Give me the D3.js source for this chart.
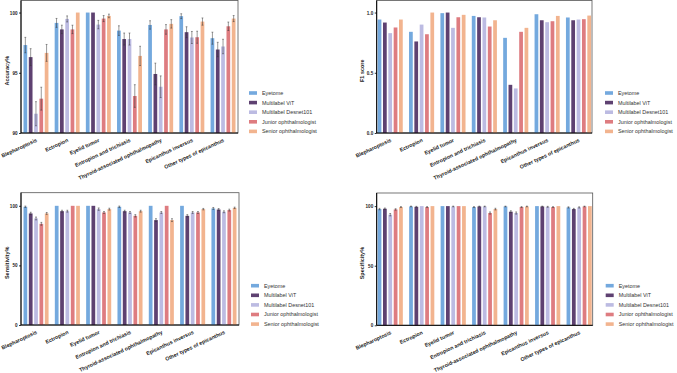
<!DOCTYPE html>
<html lang="en">
<head>
  <meta charset="UTF-8">
  <title>Eyetome comparison</title>
  <script src="https://d3js.org/d3.v7.min.js"></script>
  <style>
    body { margin: 0; background: #fff; }
    text { font-family: "Liberation Sans", Arial, sans-serif; }
  </style>
</head>
<body>
<script>
  // categories and series
  const categories = ["Blepharoptosis", "Ectropion", "Eyelid tumor", "Entropion and trichiasis",
    "Thyroid-associated ophthalmopathy", "Epicanthus inversus", "Other types of epicanthus"];
  const series = ["Eyetome", "Multilabel ViT", "Multilabel Desnet101", "Junior ophthalmologist", "Senior ophthalmologist"];
  const colors = ["#74a9de", "#5e4171", "#bcbbe2", "#de7c80", "#f2b48f"];

  // accuracy (%) - one row per series
  const accuracy = [
    [97.3, 99.14, 100, 98.5, 98.97, 99.7, 97.87],
    [96.3, 98.6, 100, 97.8, 94.9, 98.37, 96.93],
    [91.6, 99.47, 99.0, 97.8, 93.84, 97.93, 97.18],
    [92.85, 98.6, 99.5, 93.07, 98.6, 97.95, 98.86],
    [96.65, 100, 99.72, 96.4, 99.06, 99.25, 99.5]
  ];
  const accuracyErr = [
    [0.64, 0.37, 0, 0.4, 0.35, 0.2, 0.5],
    [0.7, 0.35, 0, 0.5, 0.9, 0.45, 0.6],
    [1.0, 0.25, 0.35, 0.5, 0.9, 0.5, 0.6],
    [0.95, 0.35, 0.25, 0.94, 0.4, 0.5, 0.35],
    [0.7, 0, 0.15, 0.8, 0.35, 0.3, 0.25]
  ];

  // F1 score
  const f1 = [
    [0.942, 0.84, 0.995, 0.972, 0.79, 0.986, 0.959],
    [0.917, 0.76, 1.0, 0.961, 0.40, 0.936, 0.936],
    [0.829, 0.90, 0.873, 0.959, 0.37, 0.92, 0.942],
    [0.876, 0.82, 0.961, 0.884, 0.84, 0.928, 0.945],
    [0.942, 1.0, 0.981, 0.936, 0.873, 0.972, 0.975]
  ];

  // sensitivity (%)
  const sensitivity = [
    [99.2, 100, 100, 99.2, 100, 100, 97.8],
    [93.6, 95.5, 100, 95.5, 88, 91.6, 96.9],
    [89.4, 95.5, 97.2, 94.4, 94.4, 94.4, 95],
    [84.9, 100, 94.4, 91.6, 100, 94.4, 96.4],
    [93.6, 100, 97.2, 95.5, 88, 97.2, 98.3]
  ];
  const sensitivityErr = [
    [0.6, 0, 0, 0.6, 0, 0, 0.8],
    [1, 0.8, 0, 0.8, 1.2, 1, 0.8],
    [1.2, 0.8, 1, 0.8, 0.8, 0.8, 0.8],
    [1.2, 0, 0.8, 1, 0, 0.8, 0.8],
    [0.8, 0, 0.8, 0.8, 1.2, 0.6, 0.6]
  ];

  // specificity (%)
  const specificity = [
    [97.5, 99.7, 100, 99.2, 99.7, 100, 98.9],
    [97.8, 99.4, 100, 99.7, 95.3, 99.7, 97.5],
    [92.8, 100, 99.7, 99.7, 94.2, 99.4, 98.9],
    [97.2, 99.2, 100, 94.2, 99.2, 99.2, 99.7],
    [99.2, 100, 100, 97.5, 99.7, 100, 100]
  ];
  const specificityErr = [
    [0.6, 0.3, 0, 0.4, 0.3, 0, 0.5],
    [0.6, 0.4, 0, 0.3, 0.8, 0.3, 0.6],
    [1, 0, 0.3, 0.3, 0.9, 0.4, 0.5],
    [0.6, 0.4, 0, 0.9, 0.4, 0.4, 0.3],
    [0.4, 0, 0, 0.7, 0.3, 0, 0]
  ];

  const svg = d3.select("body").append("svg")
    .attr("width", 677)
    .attr("height", 373);

  function drawPanel(p) {
    const g = svg.append("g");

    const x0 = d3.scaleBand()
      .domain(categories)
      .range([p.left, p.right])
      .paddingInner(0.2)
      .paddingOuter(p.outer);

    const x1 = d3.scaleBand()
      .domain(series)
      .range([0, x0.bandwidth()])
      .paddingInner(0.3);

    const y = d3.scaleLinear()
      .domain(p.domain)
      .range([p.bottom, p.top]);

    // frame
    g.append("rect")
      .attr("x", p.left)
      .attr("y", p.top)
      .attr("width", p.right - p.left)
      .attr("height", p.bottom - p.top)
      .attr("fill", "none")
      .attr("stroke", "#555")
      .attr("stroke-width", 0.8);

    // bars
    series.forEach((s, si) => {
      const rows = categories.map((c, ci) => ({c: c, v: p.values[si][ci], e: p.errors ? p.errors[si][ci] : 0}));
      g.append("g").selectAll("rect")
        .data(rows)
        .join("rect")
        .attr("x", d => x0(d.c) + x1(s))
        .attr("y", d => y(d.v))
        .attr("width", x1.bandwidth())
        .attr("height", d => p.bottom - y(d.v))
        .attr("fill", colors[si]);

      if (p.errors) {
        const eg = g.append("g")
          .attr("stroke", "#333")
          .attr("stroke-width", 0.5);
        rows.filter(d => d.e > 0).forEach(d => {
          const cx = x0(d.c) + x1(s) + x1.bandwidth() / 2;
          eg.append("line")
            .attr("x1", cx).attr("x2", cx)
            .attr("y1", y(d.v - d.e)).attr("y2", y(d.v + d.e));
          eg.append("line")
            .attr("x1", cx - 0.9).attr("x2", cx + 0.9)
            .attr("y1", y(d.v + d.e)).attr("y2", y(d.v + d.e));
          eg.append("line")
            .attr("x1", cx - 0.9).attr("x2", cx + 0.9)
            .attr("y1", y(d.v - d.e)).attr("y2", y(d.v - d.e));
        });
      }
    });

    // y axis
    const yAxis = g.append("g")
      .attr("transform", "translate(" + p.left + ",0)")
      .call(d3.axisLeft(y).tickValues(p.ticks).tickFormat(p.fmt).tickSize(2).tickPadding(1.5));
    yAxis.select(".domain").remove();
    yAxis.selectAll("line").attr("stroke", "#000").attr("stroke-width", 0.8);
    yAxis.selectAll("text")
      .attr("font-size", 4.6)
      .attr("font-weight", "bold")
      .attr("fill", "#222");

    // axis lines
    g.append("line")
      .attr("x1", p.left).attr("x2", p.left)
      .attr("y1", p.top).attr("y2", p.bottom)
      .attr("stroke", "#000").attr("stroke-width", 1);
    g.append("line")
      .attr("x1", p.left).attr("x2", p.right)
      .attr("y1", p.bottom).attr("y2", p.bottom)
      .attr("stroke", "#000").attr("stroke-width", 1);

    // x labels
    g.append("g").selectAll("text")
      .data(categories)
      .join("text")
      .attr("transform", d => "translate(" + (x0(d) + x0.bandwidth() / 2 + 1.5) + "," + (p.bottom + 8.5) + ") rotate(-25)")
      .attr("text-anchor", "end")
      .attr("font-size", 5.3)
      .attr("font-weight", "bold")
      .attr("fill", "#222")
      .text(d => d);

    // y title
    g.append("text")
      .attr("transform", "translate(" + (p.left - 12.5) + "," + ((p.top + p.bottom) / 2 + 4) + ") rotate(-90)")
      .attr("text-anchor", "middle")
      .attr("font-size", 5.5)
      .attr("font-weight", "bold")
      .attr("fill", "#222")
      .text(p.title);

    // legend
    const lg = g.append("g").attr("transform", "translate(" + p.legendX + "," + p.legendY + ")");
    series.forEach((s, si) => {
      lg.append("rect")
        .attr("x", 0)
        .attr("y", si * 9.6 - 1.8)
        .attr("width", 8)
        .attr("height", 3.6)
        .attr("fill", colors[si]);
      lg.append("text")
        .attr("x", 13)
        .attr("y", si * 9.6 + 1.9)
        .attr("font-size", 5.4)
        .attr("fill", "#333")
        .text(s);
    });
  }

  drawPanel({
    left: 21, right: 238, top: 0.5, bottom: 133, outer: 0.08,
    domain: [90, 101], ticks: [90, 95, 100], fmt: d3.format("d"),
    values: accuracy, errors: accuracyErr, title: "Accuracy%",
    legendX: 249, legendY: 93
  });

  drawPanel({
    left: 376.7, right: 592, top: 0.5, bottom: 133, outer: 0.03,
    domain: [0, 1.1], ticks: [0, 0.5, 1], fmt: d3.format(".1f"),
    values: f1, errors: null, title: "F1 score",
    legendX: 605, legendY: 93
  });

  drawPanel({
    left: 21, right: 239, top: 192.7, bottom: 325, outer: 0.08,
    domain: [0, 111], ticks: [0, 50, 100], fmt: d3.format("d"),
    values: sensitivity, errors: sensitivityErr, title: "Sensitivity%",
    legendX: 251, legendY: 285.7
  });

  drawPanel({
    left: 376.7, right: 592.7, top: 193, bottom: 325.3, outer: 0.03,
    domain: [0, 111], ticks: [0, 50, 100], fmt: d3.format("d"),
    values: specificity, errors: specificityErr, title: "Specificity%",
    legendX: 605.7, legendY: 285.7
  });
</script>
</body>
</html>
